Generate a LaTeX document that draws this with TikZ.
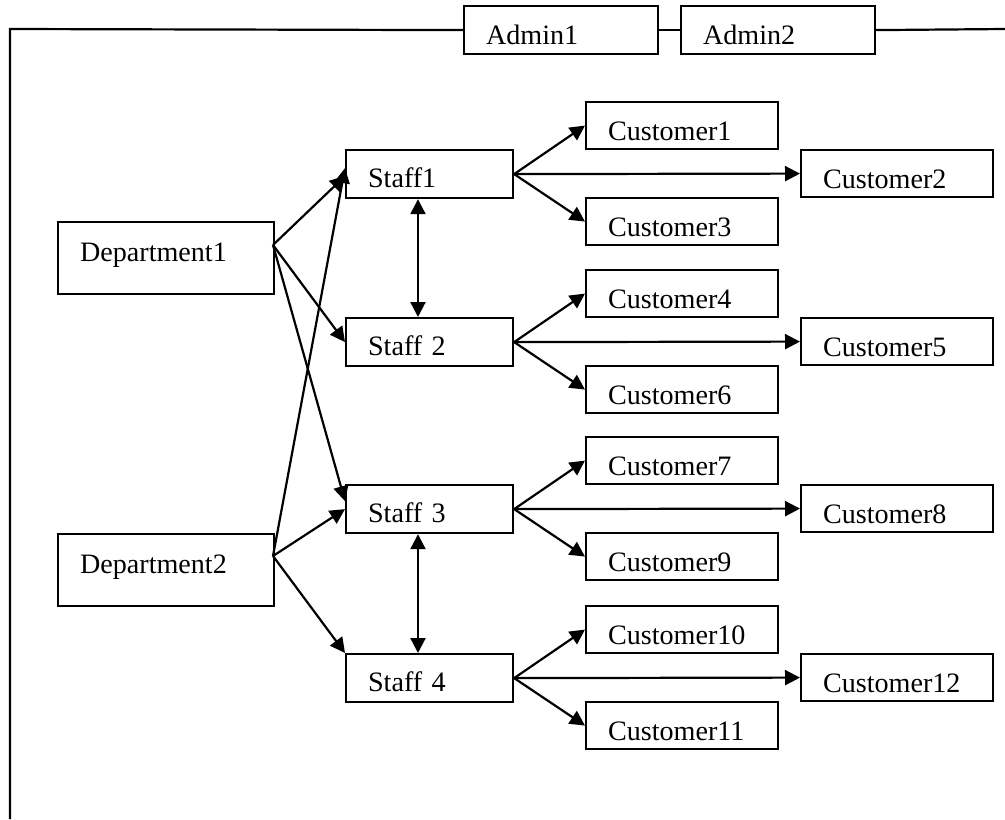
\documentclass[tikz,border=0pt]{standalone}
\usepackage{fontspec}
\setmainfont{Liberation Serif}
\usetikzlibrary{arrows.meta}
\begin{document}
\begin{tikzpicture}[x=0.02cm,y=-0.02cm,
  every node/.style={font=\fontsize{16}{19}\selectfont},
  box/.style={draw,line width=1.25pt,rectangle,anchor=north west,inner ysep=0pt,inner xsep=0.44cm,align=left},
  staffbox/.style={box,text width=2.46cm,text height=0.74cm,text depth=0.22cm},
  custbox/.style={box,text width=2.96cm,text height=0.76cm,text depth=0.18cm},
  deptbox/.style={box,text width=3.44cm,text height=0.78cm,text depth=0.66cm},
  adminbox/.style={box,text width=3.0cm,text height=0.76cm,text depth=0.2cm},
  arr/.style={line width=1.25pt,-{Triangle[length=0.3cm,width=0.3cm]}},
  dbl/.style={line width=1.25pt,{Triangle[length=0.3cm,width=0.3cm]}-{Triangle[length=0.3cm,width=0.3cm]}},
  frame/.style={line width=1.25pt}]
\useasboundingbox (0,0) rectangle (1005,819);

\node[adminbox] (admin1) at (463,5) {Admin1};
\node[adminbox] (admin2) at (680,5) {Admin2};
\coordinate (fbl) at (10,819);
\coordinate (ftl) at (10,29);
\coordinate (ftr) at (1005,29);
\draw[frame] (fbl) -- (ftl) -- (admin1.west);
\draw[frame] (admin1.east) -- (admin2.west);
\draw[frame] (admin2.east) -- (ftr);

\node[deptbox] (dept1) at (57,221) {Department1};
\node[deptbox] (dept2) at (57,533) {Department2};

\node[staffbox] (staff1) at (345,149) {Staff1};
\node[staffbox] (staff2) at (345,317) {Staff 2};
\node[staffbox] (staff3) at (345,484) {Staff 3};
\node[staffbox] (staff4) at (345,653) {Staff 4};

\node[custbox] (c1) at (585,101) {Customer1};
\node[custbox] (c2) at (800,149) {Customer2};
\node[custbox] (c3) at (585,197) {Customer3};
\node[custbox] (c4) at (585,269) {Customer4};
\node[custbox] (c5) at (800,317) {Customer5};
\node[custbox] (c6) at (585,365) {Customer6};
\node[custbox] (c7) at (585,436) {Customer7};
\node[custbox] (c8) at (800,484) {Customer8};
\node[custbox] (c9) at (585,532) {Customer9};
\node[custbox] (c10) at (585,605) {Customer10};
\node[custbox] (c12) at (800,653) {Customer12};
\node[custbox] (c11) at (585,701) {Customer11};

\coordinate (d1o) at (273,245);
\coordinate (d2o) at (273,556);

\draw[arr] (d1o) -- ([yshift=-0.04cm]staff1.west);
\draw[arr] (d1o) -- (staff2.west);
\draw[arr] (d1o) -- ([yshift=0.16cm]staff3.west);
\draw[arr] (d2o) -- ([yshift=0.12cm]staff1.west);
\draw[arr] (d2o) -- (staff3.west);
\draw[arr] (d2o) -- (staff4.north west);

\draw[dbl] ([xshift=1.46cm]staff1.south west) -- ([xshift=1.46cm]staff2.north west);
\draw[dbl] ([xshift=1.46cm]staff3.south west) -- ([xshift=1.46cm]staff4.north west);

\foreach \s/\a/\b/\c in {staff1/c1/c2/c3, staff2/c4/c5/c6, staff3/c7/c8/c9, staff4/c10/c12/c11}{
  \draw[arr] (\s.east) -- (\a.west);
  \draw[arr] (\s.east) -- (\b.west);
  \draw[arr] (\s.east) -- (\c.west);
}
\end{tikzpicture}
\end{document}
